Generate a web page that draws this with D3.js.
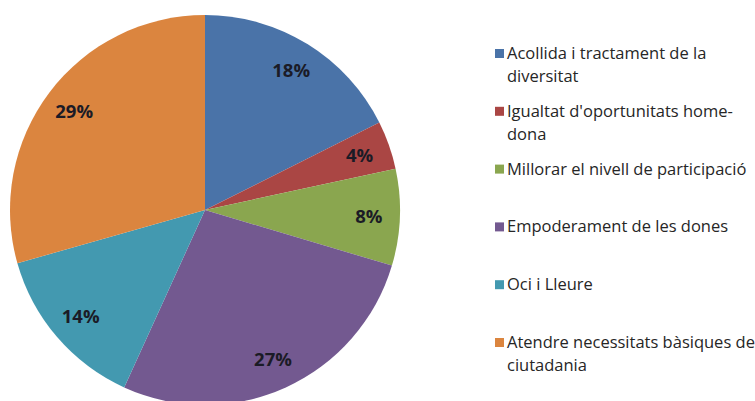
<!DOCTYPE html>
<html>
<head>
<meta charset="utf-8">
<script src="https://cdn.jsdelivr.net/npm/d3@7"></script>
<style>
  body { margin: 0; background: #fff; }
  .slice-label { font-family: "Open Sans", sans-serif; font-weight: bold; font-size: 18.5px; fill: #1b1b26; }
  .legend-text { font-family: "Open Sans", sans-serif; font-size: 16.5px; fill: #262626; }
</style>
</head>
<body>
<div class="chart"></div>
<script>
// Data
var categories = [
  "Acollida i tractament de la\ndiversitat",
  "Igualtat d'oportunitats home-\ndona",
  "Millorar el nivell de participació",
  "Empoderament de les dones",
  "Oci i Lleure",
  "Atendre necessitats bàsiques de\nciutadania"
];
var values = [17.6, 4.0, 8.0, 27.2, 13.8, 29.4];
var colors = ["#4a73a8", "#aa4644", "#8aa64f", "#735990", "#4399b0", "#db853f"];

var svgWidth = 755;
var svgHeight = 401;

var svg = d3.select(".chart")
  .append("svg")
  .attr("width", svgWidth)
  .attr("height", svgHeight);

var cx = 205, cy = 210, radius = 195;

var pie = d3.pie().sort(null).value(function(d) { return d; });
var arc = d3.arc().innerRadius(0).outerRadius(radius);
var labelArc = d3.arc().innerRadius(164).outerRadius(164);

var total = d3.sum(values);
var arcs = pie(values);

var pieG = svg.append("g")
  .attr("transform", "translate(" + cx + "," + cy + ")");

pieG.selectAll("path")
  .data(arcs)
  .enter()
  .append("path")
  .attr("d", arc)
  .attr("fill", function(d, i) { return colors[i]; });

pieG.selectAll("text")
  .data(arcs)
  .enter()
  .append("text")
  .attr("class", "slice-label")
  .attr("transform", function(d) { return "translate(" + labelArc.centroid(d) + ")"; })
  .attr("text-anchor", "middle")
  .attr("dy", "0.35em")
  .text(function(d) { return Math.round(d.data / total * 100) + "%"; });

// Legend
var legendY = d3.scalePoint()
  .domain(d3.range(categories.length))
  .range([59, 348]);

var legend = svg.append("g");

var item = legend.selectAll("g")
  .data(categories)
  .enter()
  .append("g")
  .attr("transform", function(d, i) { return "translate(495," + legendY(i) + ")"; });

item.append("rect")
  .attr("x", 0)
  .attr("y", -10)
  .attr("width", 9)
  .attr("height", 9)
  .attr("fill", function(d, i) { return colors[i]; });

item.append("text")
  .attr("class", "legend-text")
  .attr("x", 12)
  .each(function(d) {
    var t = d3.select(this);
    d.split("\n").forEach(function(line, k) {
      t.append("tspan")
        .attr("x", 12)
        .attr("dy", k === 0 ? 0 : 23)
        .text(line);
    });
  });
</script>
</body>
</html>
